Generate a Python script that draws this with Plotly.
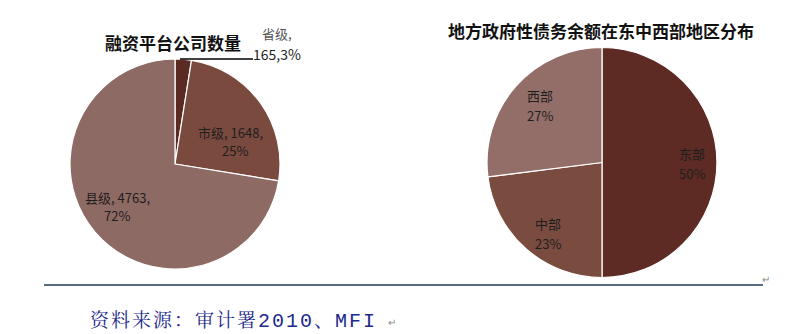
import plotly.graph_objects as go

# ---- data ----
left_labels = ["省级", "市级", "县级"]
left_values = [165, 1648, 4763]
left_pcts = [3, 25, 72]
left_colors = ["#5b2a23", "#7a4a3e", "#8e6a64"]

right_labels = ["东部", "中部", "西部"]
right_values = [50, 23, 27]
right_colors = ["#5d2b24", "#7a4b3f", "#936e69"]

left_title = "融资平台公司数量"
right_title = "地方政府性债务余额在东中西部地区分布"
source_cn = "资料来源：审计署"
source_year = "2010"
source_sep = "、"
source_org = "MFI"

W, H = 793, 334

def px(x):
    return x / W

def py(y):
    return 1 - y / H

def dom(cx, cy, r):
    return dict(x=[px(cx - r), px(cx + r)], y=[py(cy + r), py(cy - r)])

CJK = "Noto Sans CJK SC, Noto Sans, sans-serif"

fig = go.Figure()
fig.add_trace(go.Pie(
    labels=left_labels, values=left_values, sort=False, direction="clockwise",
    rotation=0, marker=dict(colors=left_colors, line=dict(color="white", width=1.2)),
    textinfo="none", hoverinfo="label+value+percent", domain=dom(175, 164, 105),
    showlegend=False))
fig.add_trace(go.Pie(
    labels=right_labels, values=right_values, sort=False, direction="clockwise",
    rotation=0, marker=dict(colors=right_colors, line=dict(color="white", width=1.2)),
    textinfo="none", hoverinfo="label+percent", domain=dom(602, 162.5, 115),
    showlegend=False))

ann = []
def add(text, x, y, size=13, color="#1e1e1e", bold=False, xanchor="center", family=CJK):
    ann.append(dict(text=("<b>%s</b>" % text) if bold else text, x=px(x), y=py(y),
                    xref="paper", yref="paper", showarrow=False, xanchor=xanchor,
                    yanchor="middle", font=dict(size=size, color=color, family=family)))

add(left_title, 173, 43, size=17, color="#111111", bold=True)
add(right_title, 601, 30, size=17, color="#111111", bold=True)

# left pie labels
add(f"{left_labels[0]},", 277, 33, color="#555555")
add(f"{left_values[0]},{left_pcts[0]}%", 277, 54, size=14)
add(f"{left_labels[1]}, {left_values[1]},", 230, 132)
add(f"{left_pcts[1]}%", 235, 150)
add(f"{left_labels[2]}, {left_values[2]},", 117, 197)
add(f"{left_pcts[2]}%", 117, 215)

# right pie labels
add(right_labels[2], 540, 95)
add(f"{right_values[2]}%", 540, 115)
add(right_labels[0], 692, 153)
add(f"{right_values[0]}%", 692, 173)
add(right_labels[1], 548, 223)
add(f"{right_values[1]}%", 548, 243)

# source
mono = "font-family:'Liberation Mono', monospace;font-size:20px;letter-spacing:2px"
cn = "letter-spacing:2px"
src = (f"<span style=\"{cn}\">{source_cn}</span><span style=\"{mono}\">{source_year}</span>"
       f"<span style=\"{cn}\">{source_sep}</span><span style=\"{mono}\">{source_org}</span>")
add(src, 88, 319, size=19, color="#1c2a8c", xanchor="left",
    family="Noto Serif CJK SC, Noto Sans CJK SC, serif")
add("↵", 392, 321, size=10, color="#888888")
add("↵", 766, 278, size=10, color="#888888")

shapes = [
    dict(type="line", xref="paper", yref="paper", x0=px(180), x1=px(253), y0=py(59), y1=py(59),
         line=dict(color="#000000", width=1.5)),
    dict(type="line", xref="paper", yref="paper", x0=px(44), x1=px(763), y0=py(285), y1=py(285),
         line=dict(color="#1f3a5a", width=1.5)),
]

fig.update_layout(width=W, height=H, margin=dict(l=0, r=0, t=0, b=0),
                  paper_bgcolor="white", plot_bgcolor="white",
                  annotations=ann, shapes=shapes)
fig.write_html("out.html")
